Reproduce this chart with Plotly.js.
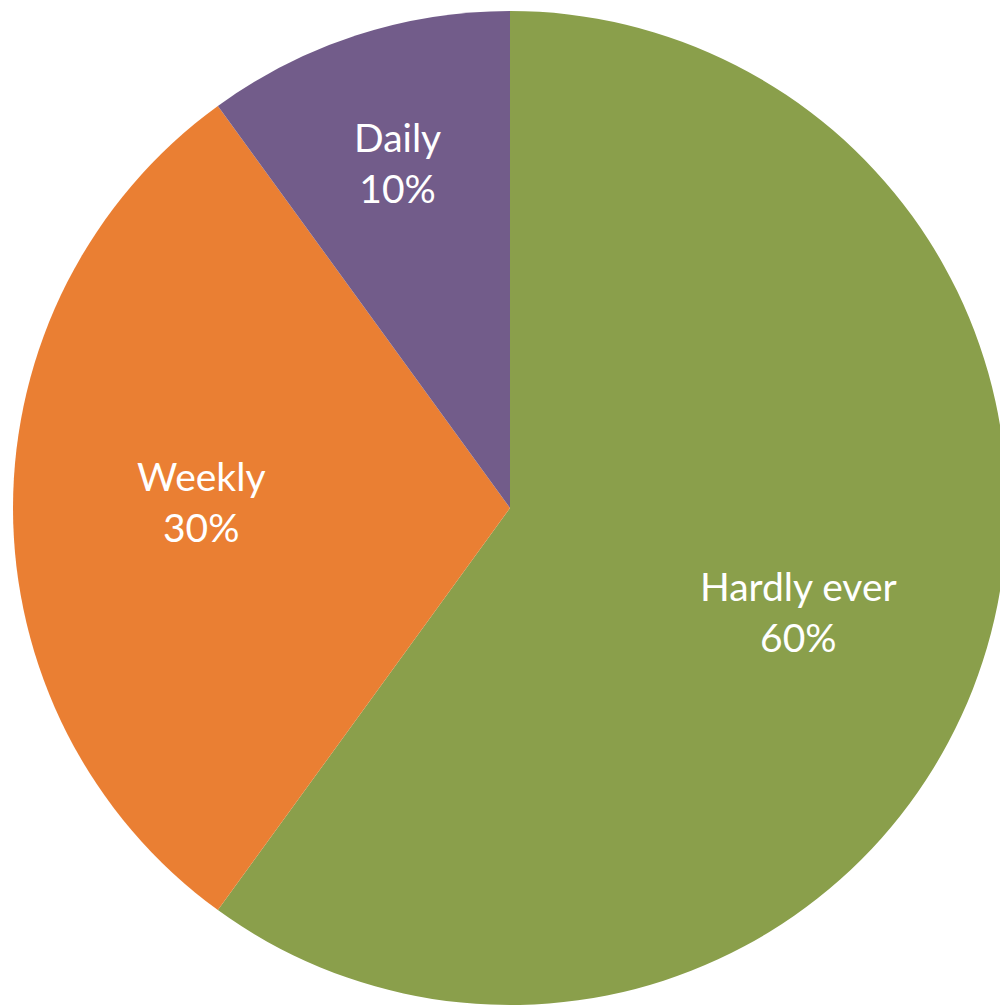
<!DOCTYPE html>
<html>
<head>
<meta charset="utf-8">
<script src="https://cdn.plot.ly/plotly-3.0.1.min.js"></script>
<style>html,body{margin:0;padding:0;overflow:hidden;background:#fff;}</style>
</head>
<body>
<div id="chart"></div>
<script>
const categories = ["Hardly ever", "Weekly", "Daily"];
const values = [60, 30, 10];
const colors = ["#8A9F4B", "#EA7F33", "#725C8A"];

// layout constants (label placement as radial fraction of the pie radius, plus small pixel nudges)
const W = 1022, H = 1007;
const M = {l: 13, r: 15, t: 11, b: 2};
const labelRadius = [0.61, 0.62, 0.73];
const labelYShift = [-10, 7, 0];

const total = values.reduce((a, b) => a + b, 0);
const areaW = W - M.l - M.r, areaH = H - M.t - M.b;
const R = Math.min(areaW, areaH) / 2;
const cx = M.l + areaW / 2, cy = M.t + areaH / 2;
let cum = 0;
const annotations = categories.map((c, i) => {
  const mid = (cum + values[i] / 2) / total * 2 * Math.PI;
  cum += values[i];
  const px = cx + R * labelRadius[i] * Math.sin(mid);
  const py = cy - R * labelRadius[i] * Math.cos(mid);
  return {
    xref: "paper", yref: "paper",
    x: (px - M.l) / areaW, y: 1 - (py - M.t) / areaH,
    xanchor: "center", yanchor: "middle",
    yshift: labelYShift[i],
    text: c + "<br>" + Math.round(values[i] / total * 100) + "%",
    showarrow: false,
    font: {family: "Lato, 'Open Sans', sans-serif", size: 39, color: "#ffffff"}
  };
});

Plotly.newPlot("chart", [{
  type: "pie",
  labels: categories,
  values: values,
  sort: false,
  direction: "clockwise",
  rotation: 0,
  marker: {colors: colors, line: {width: 0}},
  textinfo: "none",
  hoverinfo: "none"
}], {
  width: W,
  height: H,
  margin: {l: M.l, r: M.r, t: M.t, b: M.b, pad: 0},
  showlegend: false,
  paper_bgcolor: "#ffffff",
  plot_bgcolor: "#ffffff",
  annotations: annotations
}, {staticPlot: true, displayModeBar: false});
</script>
</body>
</html>
